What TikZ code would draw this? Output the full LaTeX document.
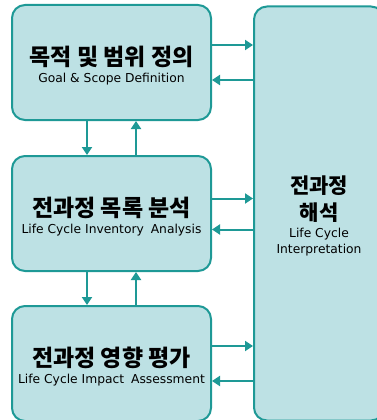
\documentclass[tikz,border=0pt]{standalone}
\usepackage{fontspec}
\setmainfont{DejaVu Sans}
\newfontfamily\kor{Noto Sans CJK KR}
\usetikzlibrary{arrows.meta, positioning, calc}
\definecolor{lcafill}{RGB}{189,225,228}
\definecolor{lcaline}{RGB}{30,153,150}
\newcommand{\kortitle}[1]{{\kor\bfseries\fontsize{23}{27}\selectfont\rule{0pt}{26pt}#1}}
\newcommand{\korhead}[1]{{\kor\bfseries\fontsize{21}{27}\selectfont #1}}
\tikzset{
  stagebox/.style={rectangle, minimum width=199pt, minimum height=115pt, inner sep=0pt, align=center, draw=lcaline, fill=lcafill, rounded corners=13pt, line width=2pt, font=\fontsize{12.3}{16}\selectfont},
  interpbox/.style={stagebox, minimum width=130pt, minimum height=414pt},
  arrow/.style={-{Triangle[length=8pt, width=10pt]}, draw=lcaline, line width=2pt},
}
\begin{document}
\begin{tikzpicture}[x=1pt, y=-1pt]
\useasboundingbox (0,0) rectangle (377,420);
\clip (0,0) rectangle (377,420);
\node (goal)   [stagebox] at (111.5,62.5) {\kortitle{목적 및 범위 정의}\\[1pt] Goal \& Scope Definition};
\node (inv)    [stagebox, below=34pt of goal] {\kortitle{전과정 목록 분석}\\[1pt] Life Cycle Inventory\hspace{3pt} Analysis};
\node (impact) [stagebox, below=33pt of inv] {\kortitle{전과정 영향 평가}\\[1pt] Life Cycle Impact\hspace{3pt} Assessment};
\node (interp) [interpbox, right=41pt of inv] {\rule{0pt}{22pt}\korhead{전과정}\\[6pt] \korhead{해석}\\[1pt] Life Cycle\\ Interpretation};
% stage <-> interpretation
\draw[arrow] ([yshift=17.5pt]goal.east) -- ([yshift=17.5pt]goal.east -| interp.west);
\draw[arrow] ([yshift=-17.5pt]goal.east -| interp.west) -- ([yshift=-17.5pt]goal.east);
\draw[arrow] ([yshift=15pt]inv.east) -- ([yshift=15pt]inv.east -| interp.west);
\draw[arrow] ([yshift=-16pt]inv.east -| interp.west) -- ([yshift=-16pt]inv.east);
\draw[arrow] ([yshift=17.5pt]impact.east) -- ([yshift=17.5pt]impact.east -| interp.west);
\draw[arrow] ([yshift=-17.5pt]impact.east -| interp.west) -- ([yshift=-17.5pt]impact.east);
% stage <-> stage
\draw[arrow] ([xshift=-24.5pt]goal.south) -- ([xshift=-24.5pt]goal.south |- inv.north);
\draw[arrow] ([xshift=24.5pt]inv.north) -- ([xshift=24.5pt]inv.north |- goal.south);
\draw[arrow] ([xshift=-24.5pt]inv.south) -- ([xshift=-24.5pt]inv.south |- impact.north);
\draw[arrow] ([xshift=24.5pt]impact.north) -- ([xshift=24.5pt]impact.north |- inv.south);
\end{tikzpicture}
\end{document}
